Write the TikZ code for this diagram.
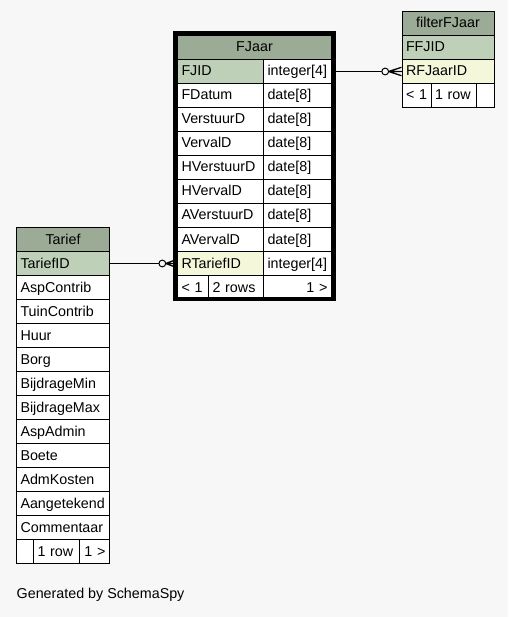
\documentclass[tikz,border=0pt]{standalone}
\usepackage{fontspec}
\setmainfont{Liberation Sans}
\usetikzlibrary{calc}

\definecolor{graphbg}{HTML}{F7F7F7}
\definecolor{headbg}{HTML}{9BAB96}
\definecolor{pkbg}{HTML}{BED1B8}
\definecolor{fkbg}{HTML}{F4F7DA}

\tikzset{
  cellbox/.style={draw=black, line width=1pt, rectangle, anchor=north west,
    inner xsep=4pt, inner ysep=0pt, minimum height=24pt,
    text height=11pt, text depth=2pt,
    font=\fontsize{14.3pt}{16pt}\selectfont},
  rel/.style={draw=black, line width=1pt},
  crow/.style={draw=black, line width=1.3pt},
  focusframe/.style={draw=black, line width=4pt},
}

% \cellat{name}{x}{y}{width}{fill}{align}{text}: one table cell, top-left at (x,y)
\newcommand\cellat[7]{%
  \pgfmathsetmacro\cellinnerw{#4-8}%
  \node[cellbox, fill=#5, align=#6, text width=\cellinnerw pt] (#1) at (#2,#3) {\mbox{#7}};%
}

% \crowdot{tip}{crow length}: open circle plus crow's foot ending at tip
\newcommand\crowdot[2]{%
  \draw[crow] ($(#1)+(-#2,0)$) -- ($(#1)+(0,-4.2)$)
              ($(#1)+(-#2,0)$) -- (#1)
              ($(#1)+(-#2,0)$) -- ($(#1)+(0,4.2)$);
  \draw[rel, fill=graphbg] ($(#1)+(-#2-3.5,0)$) circle (3.4pt);
}

\begin{document}
\begin{tikzpicture}[x=1pt, y=-1pt]
  \fill[graphbg] (0,0) rectangle (508,617);
  \useasboundingbox (0,0) rectangle (508,617);

  % ---------- FJaar ----------
  \cellat{fjaarhead}{177}{35}{154}{headbg}{center}{FJaar}
  \foreach \nm/\ty/\fl [count=\i from 0] in {
      FJID/integer[4]/pkbg, FDatum/date[8]/white, VerstuurD/date[8]/white,
      VervalD/date[8]/white, HVerstuurD/date[8]/white, HVervalD/date[8]/white,
      AVerstuurD/date[8]/white, AVervalD/date[8]/white, RTariefID/integer[4]/fkbg} {
    \pgfmathsetmacro\rowy{59+24*\i}
    \cellat{fj-\nm}{177}{\rowy}{86}{\fl}{left}{\nm}
    \cellat{fj-\nm-type}{263}{\rowy}{68}{white}{left}{\ty}
  }
  \cellat{fjfootA}{177}{275}{31}{white}{left}{< 1}
  \cellat{fjfootB}{208}{275}{55}{white}{left}{2 rows}
  \cellat{fjfootC}{263}{275}{68}{white}{right}{1 >}
  \draw[focusframe] (175.3,33.3) rectangle (333.7,298.7);

  % ---------- filterFJaar ----------
  \cellat{filterhead}{401.5}{11}{92}{headbg}{center}{filterFJaar}
  \cellat{ffjid}{401.5}{35}{92}{pkbg}{left}{FFJID}
  \cellat{rfjaarid}{401.5}{59}{92}{fkbg}{left}{RFJaarID}
  \cellat{filterfootA}{401.5}{83}{29}{white}{left}{< 1}
  \cellat{filterfootB}{430.5}{83}{45}{white}{left}{1 row}
  \cellat{filterfootC}{475.5}{83}{18}{white}{left}{}

  % ---------- Tarief ----------
  \cellat{tariefhead}{16}{227}{93}{headbg}{center}{Tarief}
  \cellat{tariefid}{16}{251}{93}{pkbg}{left}{TariefID}
  \foreach \nm [count=\i from 0] in {AspContrib, TuinContrib, Huur, Borg,
      BijdrageMin, BijdrageMax, AspAdmin, Boete, AdmKosten, Aangetekend, Commentaar} {
    \pgfmathsetmacro\rowy{275+24*\i}
    \cellat{tr-\nm}{16}{\rowy}{93}{white}{left}{\nm}
  }
  \cellat{trfootA}{16}{539}{17}{white}{left}{}
  \cellat{trfootB}{33}{539}{46}{white}{left}{1 row}
  \cellat{trfootC}{79}{539}{30}{white}{right}{1 >}

  % ---------- relationships ----------
  \coordinate (filtertip) at (rfjaarid.west);
  \draw[rel] (fj-FJID-type.east) -- (filtertip);
  \crowdot{filtertip}{12.8}

  \coordinate (tarieftip) at (fj-RTariefID.west);
  \draw[rel] (tariefid.east) -- (tarieftip);
  \crowdot{tarieftip}{11.2}
  \draw[focusframe] (175.3,250) -- (175.3,276);

  % ---------- caption ----------
  \node[anchor=base west, inner sep=0pt, font=\fontsize{14.3pt}{16pt}\selectfont]
    (caption) at (16.5,598.5) {Generated by SchemaSpy};
\end{tikzpicture}
\end{document}
